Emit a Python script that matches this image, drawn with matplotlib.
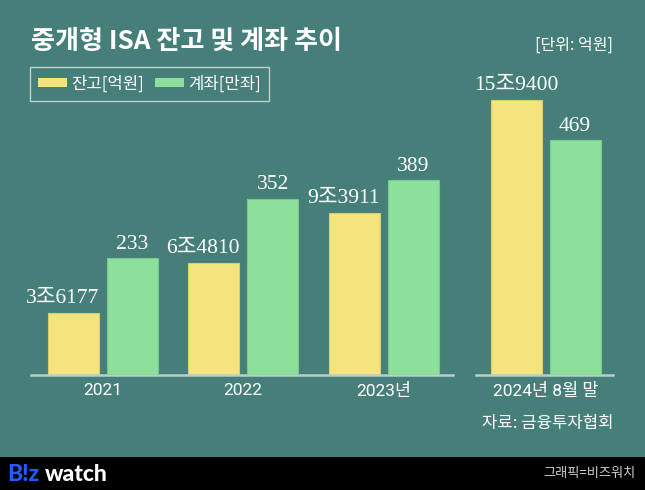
import matplotlib
matplotlib.use("Agg")
import matplotlib.pyplot as plt
from matplotlib.patches import Rectangle

# ---- data ----
years_left = ["2021", "2022", "2023년"]
year_right = ["2024년 8월 말"]
balance_left = [36177, 64810, 93911]        # 억원
balance_right = [159400]
accounts_left = [233, 352, 389]             # 만좌
accounts_right = [469]
balance_labels_left = ["3조6177", "6조4810", "9조3911"]
balance_labels_right = ["15조9400"]
series_names = ["잔고[억원]", "계좌[만좌]"]

BG = "#467f79"
YEL = "#f3e47d"
GRN = "#8de09b"
YEL_E = "#d8cc6e"
GRN_E = "#79c98a"
BASE = "#b8cfcb"

W, H = 645, 490
fig = plt.figure(figsize=(W / 100, H / 100), dpi=100)
fig.patch.set_facecolor(BG)

SANS_KR = ["Noto Sans CJK KR", "DejaVu Sans"]
NUM = ["Roboto", "Noto Sans CJK KR"]
SERIF = ["Liberation Serif", "Noto Sans CJK KR"]

def fx(px):
    return px / W

def fy(py):
    return 1 - py / H

base_y = 375
top_y = 60
YMAX_BAL = (base_y - top_y) * 579
YMAX_ACC = (base_y - top_y) * 2.0
unit = 140.25
bw = 51 / unit
off = 29.5 / unit


def make_axes(x0, x1, xlim):
    ax = fig.add_axes([fx(x0), fy(base_y), fx(x1 - x0), (base_y - top_y) / H])
    ax.set_facecolor("none")
    ax.set_xlim(*xlim)
    ax.set_ylim(0, YMAX_BAL)
    ax2 = ax.twinx()
    ax2.set_ylim(0, YMAX_ACC)
    for a in (ax, ax2):
        for s in a.spines.values():
            s.set_visible(False)
        a.set_yticks([])
    ax.spines["bottom"].set_visible(True)
    ax.spines["bottom"].set_color(BASE)
    ax.spines["bottom"].set_linewidth(1.8)
    ax.tick_params(axis="x", length=0, pad=6, colors="white")
    return ax, ax2


axL, axL2 = make_axes(31, 453, (-(103 - 31) / unit, 2 + (453 - 383.5) / unit))
axR, axR2 = make_axes(476, 613, (-(545.5 - 476) / unit, (613 - 545.5) / unit))

xl = list(range(len(years_left)))
xr = list(range(len(year_right)))

b1 = axL.bar([x - off for x in xl], balance_left, bw, color=YEL, edgecolor=YEL_E, linewidth=0.8, zorder=2)
b2 = axL2.bar([x + off for x in xl], accounts_left, bw, color=GRN, edgecolor=GRN_E, linewidth=0.8, zorder=2)
axR.bar([x - off for x in xr], balance_right, bw, color=YEL, edgecolor=YEL_E, linewidth=0.8, zorder=2)
axR2.bar([x + off for x in xr], accounts_right, bw, color=GRN, edgecolor=GRN_E, linewidth=0.8, zorder=2)

for ax, pos, labs in ((axL, xl, years_left), (axR, xr, year_right)):
    ax.set_xticks(pos)
    ax.set_xticklabels(labs, family=NUM, fontsize=12.5, color="white", fontweight="normal")

lab_kw = dict(family=SERIF, fontsize=15.5, color="white", va="bottom")
for x, v, t in zip(xl, balance_left, balance_labels_left):
    axL.annotate(t, (x - off + bw / 2, v), xytext=(0, 3.5), textcoords="offset points", ha="right", **lab_kw)
for x, v in zip(xl, accounts_left):
    axL2.annotate(f"{v}", (x + off, v), xytext=(0, 3.5), textcoords="offset points", ha="center", **lab_kw)
for x, v, t in zip(xr, balance_right, balance_labels_right):
    axR.annotate(t, (x - off, v), xytext=(0, 3.5), textcoords="offset points", ha="center", **lab_kw)
for x, v in zip(xr, accounts_right):
    axR2.annotate(f"{v}", (x + off, v), xytext=(0, 3.5), textcoords="offset points", ha="center", **lab_kw)

# legend
leg = fig.legend([b1, b2], series_names, loc="upper left",
                 bbox_to_anchor=(fx(30), fy(67)), bbox_transform=fig.transFigure,
                 ncol=2, frameon=True, fancybox=False, borderaxespad=0,
                 prop={"family": SANS_KR, "size": 12},
                 handlelength=1.7, handleheight=0.38, handletextpad=0.25,
                 columnspacing=0.7, borderpad=0.5, labelcolor="white")
fr = leg.get_frame()
fr.set_facecolor("none")
fr.set_edgecolor("#dce8e5")
fr.set_linewidth(1.0)
for h in leg.legend_handles:
    h.set_linewidth(0)

# title and notes
fig.text(fx(31), fy(41), "중개형 ISA 잔고 및 계좌 추이", family=SANS_KR, fontsize=18.8,
         fontweight="bold", color="white", va="center", ha="left")
fig.text(fx(613), fy(45), "[단위: 억원]", family=SANS_KR, fontsize=11.5, color="white",
         va="center", ha="right", fontweight="medium")
fig.text(fx(613), fy(423), "자료: 금융투자협회", family=SANS_KR, fontsize=12, color="white",
         va="center", ha="right", fontweight="medium")

# bottom strip
fig.add_artist(Rectangle((0, 0), 1, 33 / H, transform=fig.transFigure,
                         facecolor="black", edgecolor="none", zorder=0))
logo_kw = dict(family=["Lato", "DejaVu Sans"], fontweight="black", fontsize=16.5, va="center", ha="left")
fig.text(fx(7), fy(474), "B!z", color="#1f5fff", **logo_kw)
fig.text(fx(45), fy(474), "watch", color="white", **logo_kw)
fig.text(fx(636), fy(473), "그래픽=비즈워치", family=SANS_KR, fontsize=9.5, color="#cfcfcf",
         va="center", ha="right")

fig.savefig("out.png", dpi=100, facecolor=fig.get_facecolor())
